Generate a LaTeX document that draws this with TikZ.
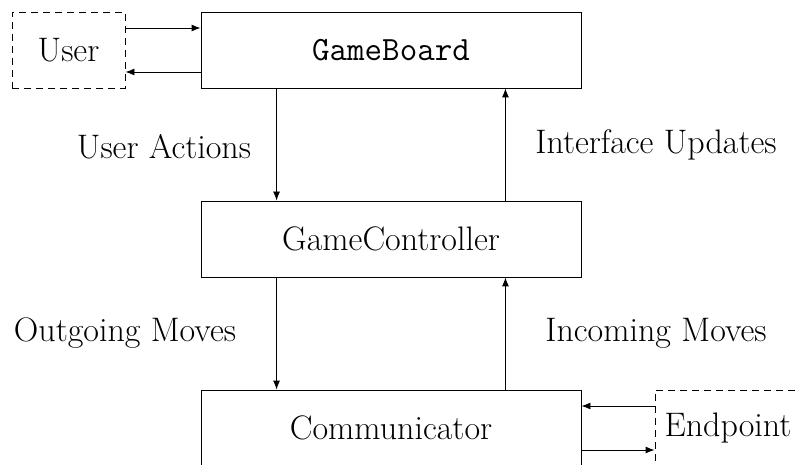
\documentclass[tikz,border=0pt]{standalone}
\usetikzlibrary{arrows.meta}
\begin{document}
\begin{tikzpicture}[x=1pt,y=-1pt,
  box/.style={draw,line width=0.9pt,minimum height=76pt,inner sep=0pt,font=\fontsize{34}{40}\selectfont},
  dbox/.style={box,dashed,dash pattern=on 7pt off 5pt},
  lbl/.style={inner sep=0pt,font=\fontsize{34}{40}\selectfont},
  arr/.style={line width=0.9pt,-{Latex[length=9pt,width=7pt]}}]
\useasboundingbox (0,0) rectangle (796,465);
\clip (0,0) rectangle (796,465);
\node[box,minimum width=380pt] (GB) at (391,50) {\texttt{GameBoard}};
\node[box,minimum width=380pt] (GC) at (391,239) {GameController};
\node[box,minimum width=380pt] (CM) at (391,428) {Communicator};
\node[dbox,minimum width=113pt] (U) at (68.5,50) {User};
\node[dbox,minimum width=146pt] (E) at (728,428) {Endpoint};
\draw[arr] ([yshift=22pt]U.east) -- ([yshift=22pt]U.east -| GB.west);
\draw[arr] ([yshift=-22pt]U.east -| GB.west) -- ([yshift=-22pt]U.east);
\draw[arr] ([yshift=22pt]E.west) -- ([yshift=22pt]E.west -| CM.east);
\draw[arr] ([yshift=-22pt]E.west -| CM.east) -- ([yshift=-22pt]E.west);
\draw[arr] ([xshift=76pt]GB.south west) -- ([xshift=76pt]GC.north west);
\draw[arr] ([xshift=-76pt]GC.north east) -- ([xshift=-76pt]GB.south east);
\draw[arr] ([xshift=76pt]GC.south west) -- ([xshift=76pt]CM.north west);
\draw[arr] ([xshift=-76pt]CM.north east) -- ([xshift=-76pt]GC.south east);
\node[lbl] (ua) at (164,147) {User Actions};
\node[lbl] (iu) at (656,145) {Interface Updates};
\node[lbl] (om) at (125,333) {Outgoing Moves};
\node[lbl] (im) at (656,333) {Incoming Moves};
\end{tikzpicture}
\end{document}
